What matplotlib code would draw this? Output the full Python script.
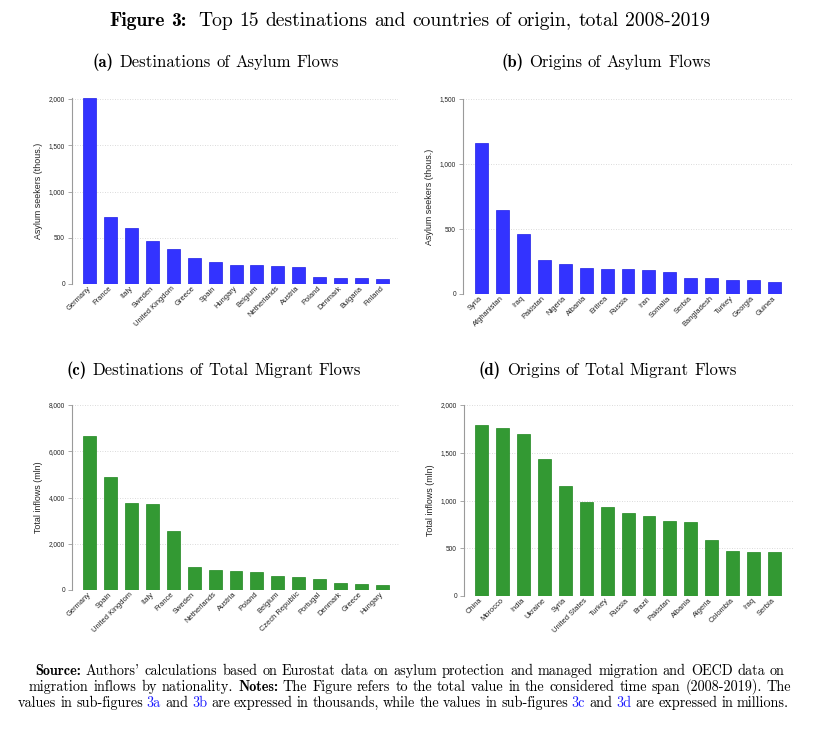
import matplotlib
matplotlib.use("Agg")
import matplotlib.pyplot as plt
from matplotlib.font_manager import FontProperties
from matplotlib.ticker import FuncFormatter

# ---------------- data ----------------
dest_asylum_countries = ["Germany", "France", "Italy", "Sweden", "United Kingdom", "Greece", "Spain",
                         "Hungary", "Belgium", "Netherlands", "Austria", "Poland", "Denmark",
                         "Bulgaria", "Finland"]
dest_asylum_values = [2007, 721, 605, 465, 378, 277, 241, 205, 202, 195, 184, 76, 68, 61, 50]

orig_asylum_countries = ["Syria", "Afghanistan", "Iraq", "Pakistan", "Nigeria", "Albania", "Eritrea",
                         "Russia", "Iran", "Somalia", "Serbia", "Bangladesh", "Turkey", "Georgia",
                         "Guinea"]
orig_asylum_values = [1158, 644, 461, 262, 232, 198, 193, 193, 188, 173, 125, 120, 107, 104, 94]

dest_total_countries = ["Germany", "Spain", "United Kingdom", "Italy", "France", "Sweden",
                        "Netherlands", "Austria", "Poland", "Belgium", "Czech Republic", "Portugal",
                        "Denmark", "Greece", "Hungary"]
dest_total_values = [6647, 4892, 3755, 3698, 2547, 1007, 878, 835, 777, 619, 576, 489, 302, 273, 230]

orig_total_countries = ["China", "Morocco", "India", "Ukraine", "Syria", "United States", "Turkey",
                        "Russia", "Brazil", "Pakistan", "Albania", "Algeria", "Colombia", "Iraq",
                        "Serbia"]
orig_total_values = [1794, 1760, 1697, 1432, 1150, 983, 937, 864, 833, 784, 777, 585, 474, 463, 460]

asylum_ticks = [[0, 500, 1000, 1500, 2000], [0, 500, 1000, 1500]]
total_ticks = [[0, 2000, 4000, 6000, 8000], [0, 500, 1000, 1500, 2000]]

# ---------------- figure ----------------
W, H, DPI = 837, 742, 100
fig = plt.figure(figsize=(W / DPI, H / DPI), dpi=DPI)
fig.patch.set_facecolor("white")

SANS = "Liberation Sans"
BLUE, BLUE_EDGE = "#3333ff", "#1f1fe6"
GREEN, GREEN_EDGE = "#339933", "#1f871f"


def panel(left, right, zero_px, tick_px, tick_val, ytop, xl, xr,
          cats, vals, ticks, ylabel, color, edge):
    scale = (zero_px - tick_px) / tick_val
    top_px = zero_px - ytop * scale
    ax = fig.add_axes([left / W, 1 - zero_px / H, (right - left) / W, (zero_px - top_px) / H])
    x = list(range(len(cats)))
    ax.bar(x, vals, width=0.62, color=color, edgecolor=edge, linewidth=0.5, zorder=3)
    ax.set_xlim(xl, xr)
    ax.set_ylim(0, ytop)
    ax.set_yticks(ticks)
    ax.yaxis.set_major_formatter(FuncFormatter(lambda v, p: f"{v:,.0f}"))
    ax.grid(axis="y", linestyle=(0, (1, 2)), color="#cfcfcf", linewidth=0.6, zorder=0)
    ax.set_axisbelow(True)
    for s in ["top", "right", "bottom"]:
        ax.spines[s].set_visible(False)
    ax.spines["left"].set_color("#9a9a9a")
    ax.spines["left"].set_linewidth(0.8)
    ax.tick_params(axis="y", length=3, width=0.6, color="#9a9a9a", labelsize=4.7,
                   labelcolor="#222222", pad=2)
    ax.tick_params(axis="x", length=0, pad=2.5)
    ax.set_xticks(x)
    ax.set_xticklabels(cats, rotation=45, ha="right", va="center", rotation_mode="anchor",
                       fontsize=5.4, color="#222222", family=SANS)
    for lab in ax.get_yticklabels():
        lab.set_family(SANS)
    ax.set_ylabel(ylabel, fontsize=6.4, family=SANS, color="#222222", labelpad=4.5)
    ax.patch.set_alpha(0)
    return ax


panel(72, 398, 284, 99, 2000, max(2000, max(dest_asylum_values)), -0.84, 14.74,
      dest_asylum_countries, dest_asylum_values, asylum_ticks[0],
      "Asylum seekers (thous.)", BLUE, BLUE_EDGE)
panel(463, 793, 294, 99, 1500, 1500, -0.88, 14.88,
      orig_asylum_countries, orig_asylum_values, asylum_ticks[1],
      "Asylum seekers (thous.)", BLUE, BLUE_EDGE)
panel(72, 400, 590, 405, 8000, 8000, -0.84, 14.84,
      dest_total_countries, dest_total_values, total_ticks[0],
      "Total inflows (mln)", GREEN, GREEN_EDGE)
panel(464, 793, 596, 405, 2000, 2000, -0.84, 14.88,
      orig_total_countries, orig_total_values, total_ticks[1],
      "Total inflows (mln)", GREEN, GREEN_EDGE)

# ---------------- LaTeX-like texts ----------------
renderer = fig.canvas.get_renderer()
REG, BOLD = "cmr10", "cmb10"
LINK = "#1a1aff"


def word_width(s, fam, size):
    fp = FontProperties(family=fam, size=size)
    w, h, d = renderer.get_text_width_height_descent(s, fp, ismath=False)
    return w


def words_of(runs):
    out = []
    for txt, fam, col in runs:
        for w in txt.split():
            out.append((w, fam, col))
    return out


def natural_width(words, size, gaps=None):
    space = 0.3333 * size * DPI / 72.0
    extra = sum((gaps or {}).values())
    return sum(word_width(w, f, size) for w, f, c in words) + space * (len(words) - 1) + extra


def draw_line(runs, x0, x1, baseline, size, justify=False, gap_extra=None):
    """Draw words from x0 to x1 (justified) or centred between them."""
    words = words_of(runs)
    gaps = gap_extra or {}
    space = 0.3333 * size * DPI / 72.0
    ink = sum(word_width(w, f, size) for w, f, c in words)
    nat = natural_width(words, size, gaps)
    if justify and len(words) > 1:
        space = (x1 - x0 - ink - sum(gaps.values())) / (len(words) - 1)
        x = x0
    else:
        x = (x0 + x1) / 2.0 - nat / 2.0
    for i, (w, f, c) in enumerate(words):
        fig.text(x / W, 1 - baseline / H, w, family=f, size=size, color=c,
                 ha="left", va="baseline")
        x += word_width(w, f, size) + space + gaps.get(i, 0.0)


def fit_size(runs, target, gaps=None):
    words = words_of(runs)
    return 10.0 * target / natural_width(words, 10.0, gaps)


title_runs = [("Figure 3:", BOLD, "black"),
              ("Top 15 destinations and countries of origin, total 2008-2019", REG, "black")]
title_gaps = {1: 5.0}
tsize = fit_size(title_runs, 604, title_gaps)
draw_line(title_runs, 108, 712, 26, tsize, justify=False, gap_extra=title_gaps)

cap_c = [("(c)", BOLD, "black"), ("Destinations of Total Migrant Flows", REG, "black")]
csize = fit_size(cap_c, 293)
draw_line([("(a)", BOLD, "black"), ("Destinations of Asylum Flows", REG, "black")], 216, 216, 67, csize)
draw_line([("(b)", BOLD, "black"), ("Origins of Asylum Flows", REG, "black")], 606, 606, 67, csize)
draw_line(cap_c, 214, 214, 375, csize)
draw_line([("(d)", BOLD, "black"), ("Origins of Total Migrant Flows", REG, "black")], 608, 608, 375, csize)

note1 = [("Source:", BOLD, "black"),
         ("Authors' calculations based on Eurostat data on asylum protection and managed "
          "migration and OECD data on", REG, "black")]
note2 = [("migration inflows by nationality.", REG, "black"), ("Notes:", BOLD, "black"),
         ("The Figure refers to the total value in the considered time span (2008-2019). The",
          REG, "black")]
note3 = [("values in sub-figures", REG, "black"), ("3a", REG, LINK), ("and", REG, "black"),
         ("3b", REG, LINK),
         ("are expressed in thousands, while the values in sub-figures", REG, "black"),
         ("3c", REG, LINK), ("and", REG, "black"), ("3d", REG, LINK),
         ("are expressed in millions.", REG, "black")]
nsize = fit_size(note2, 762)
draw_line(note1, 35, 785, 675, nsize, justify=True)
draw_line(note2, 29, 791, 691, nsize, justify=True)
draw_line(note3, 18, 789, 707, nsize, justify=True)

fig.savefig("out.png", dpi=DPI, facecolor="white")
